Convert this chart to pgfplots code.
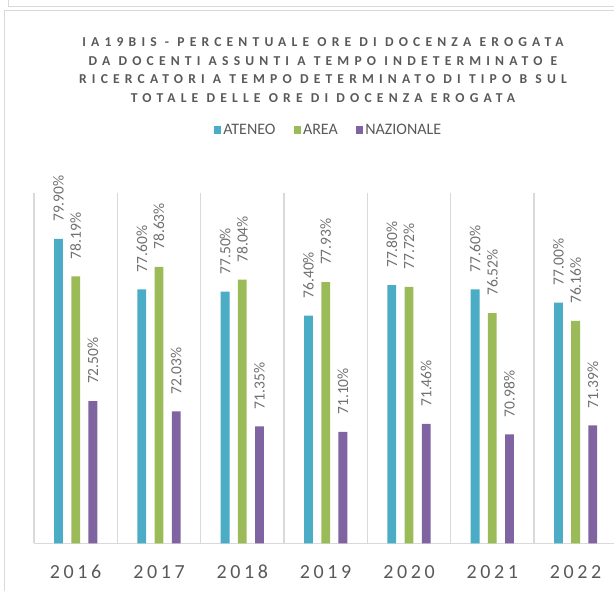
\documentclass[border=0pt]{standalone}
\usepackage{fontspec}
\setmainfont{Carlito}
\newfontfamily\titlefont{Carlito}[LetterSpace=38]
\newfontfamily\yearfont{Carlito}[LetterSpace=18]
\usepackage{pgfplots}
\pgfplotsset{compat=1.18}
\definecolor{ateneo}{HTML}{4BACC6}
\definecolor{area}{HTML}{9BBB59}
\definecolor{naz}{HTML}{8064A2}
\definecolor{gridgray}{HTML}{D9D9D9}
\definecolor{textgray}{HTML}{595959}
\definecolor{labgray}{HTML}{707070}
\begin{document}
\begin{tikzpicture}[x=1pt,y=1pt]
\useasboundingbox (0,0) rectangle (614,591);
\clip (0,0) rectangle (614,591);
% frames
\draw[gridgray, line width=1.3pt] (8.3,592) -- (8.3,584.3) -- (620,584.3);
\draw[gridgray, line width=1.3pt] (4.3,-1) -- (4.3,580.3) -- (620,580.3);
% title
\begin{scope}[every node/.style={font=\titlefont\bfseries\fontsize{13.6}{15}\selectfont, text=textgray, anchor=base, inner sep=0pt}]
\node at (323,544.3) {IA19BIS - PERCENTUALE ORE DI DOCENZA EROGATA};
\node at (323,525.7) {DA DOCENTI ASSUNTI A TEMPO INDETERMINATO E};
\node at (323,507.1) {RICERCATORI A TEMPO DETERMINATO DI TIPO B SUL};
\node at (323,488.5) {TOTALE DELLE ORE DI DOCENZA EROGATA};
\end{scope}
\begin{axis}[
  at={(34pt,47.5pt)}, anchor=south west,
  scale only axis, width=583.3pt, height=350.5pt,
  xmin=-0.5, xmax=6.5, ymin=66, ymax=82,
  clip=false,
  /pgf/number format/assume math mode=true,
  ybar, bar width=8.8pt,
  axis x line*=bottom, axis y line=none, ytick=\empty,
  x axis line style={draw=gridgray, line width=1.3pt},
  xtick={0,...,6}, xticklabels={2016,2017,2018,2019,2020,2021,2022},
  major tick length=0pt, minor tick length=0pt,
  minor xtick={-0.5,0.5,...,6.5}, xminorgrids=true,
  minor grid style={draw=gridgray, line width=1.3pt},
  xticklabel style={font=\yearfont\fontsize{20}{24}\selectfont, text=textgray, anchor=base, yshift=-35.5pt},
  nodes near coords={\pgfmathprintnumber[fixed, fixed zerofill, precision=2, assume math mode=true]{\pgfplotspointmeta}\%},
  every node near coord/.append style={font=\fontsize{15.5}{18}\selectfont, text=labgray, rotate=90, anchor=west, inner sep=0pt, xshift=17pt},
  legend columns=3,
  legend style={at={(0.505,1.18)}, anchor=center, draw=none, fill=none, inner sep=0pt,
    font=\fontsize{16}{19}\selectfont, text=textgray,
    /tikz/every even column/.append style={column sep=16pt}},
  legend image code/.code={\fill[#1] (0pt,-3.75pt) rectangle (7.5pt,3.75pt);},
]
\addplot[fill=ateneo, draw=none, bar shift=-17.2pt] coordinates {(0,79.90) (1,77.60) (2,77.50) (3,76.40) (4,77.80) (5,77.60) (6,77.00)};
\addplot[fill=area, draw=none, bar shift=0pt] coordinates {(0,78.19) (1,78.63) (2,78.04) (3,77.93) (4,77.72) (5,76.52) (6,76.16)};
\addplot[fill=naz, draw=none, bar shift=17.2pt] coordinates {(0,72.50) (1,72.03) (2,71.35) (3,71.10) (4,71.46) (5,70.98) (6,71.39)};
\legend{ATENEO, AREA, NAZIONALE}
\end{axis}
\end{tikzpicture}
\end{document}
